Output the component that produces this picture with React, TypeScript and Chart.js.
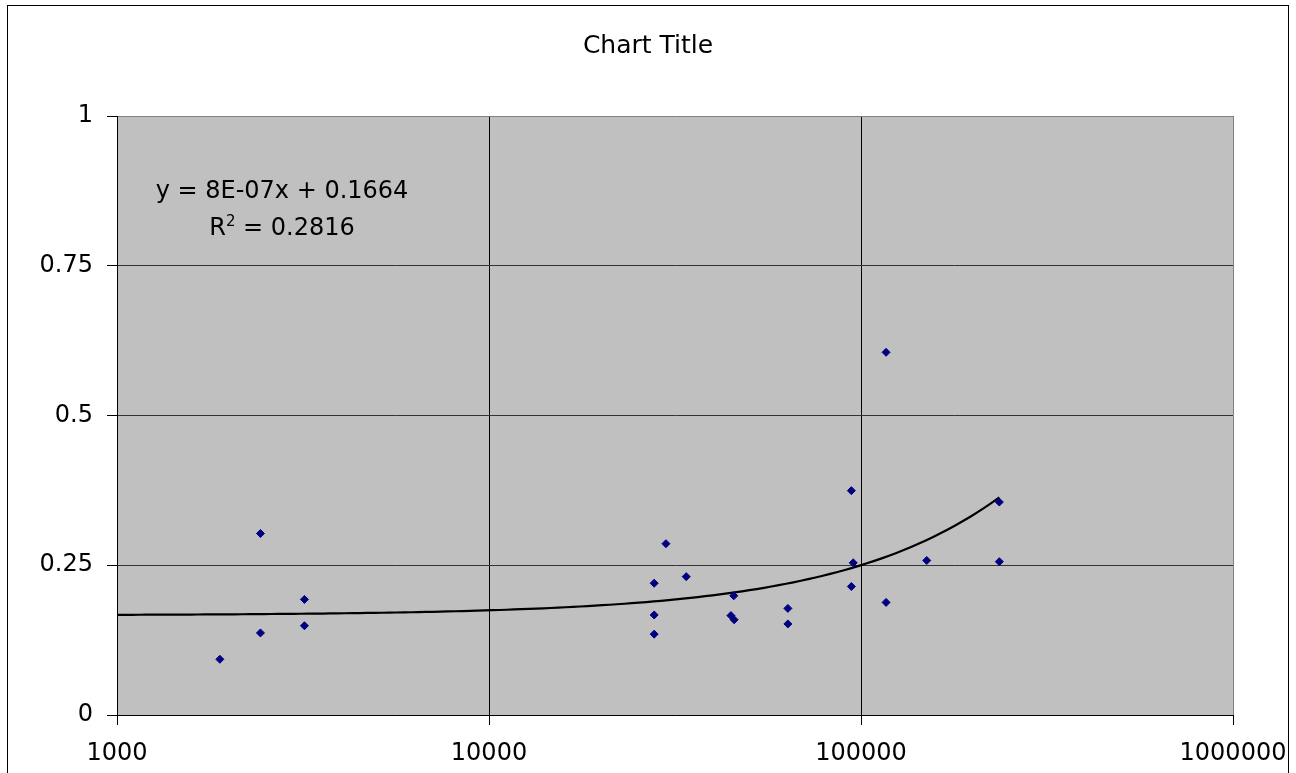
import React, { useEffect, useRef } from 'react';
import { Chart, registerables } from 'chart.js';

Chart.register(...registerables);

// ---- Data ----
const chartTitle = 'Chart Title';
const xValues = [1890, 2430, 2430, 3190, 3190, 27800, 27800, 27800, 29900, 33900, 45500, 44700, 45600, 63600, 63600, 94200, 95300, 94200, 116800, 116800, 150200, 235400, 235400];
const yValues = [0.093, 0.303, 0.137, 0.193, 0.149, 0.22, 0.167, 0.135, 0.286, 0.231, 0.199, 0.166, 0.159, 0.178, 0.152, 0.3745, 0.254, 0.2145, 0.6055, 0.188, 0.258, 0.3555, 0.256];
const xTickValues = [1000, 10000, 100000, 1000000];
const yTickValues = [0, 0.25, 0.5, 0.75, 1];
const trendSlope = 8.37e-7;
const trendIntercept = 0.1664;
const trendStartX = 1000;
const equationText = 'y = 8E-07x + 0.1664';
const rSquaredLabel = 'R';
const rSquaredSup = '2';
const rSquaredValue = ' = 0.2816';

const FONT = '"DejaVu Sans", sans-serif';

export default function App() {
  const canvasRef = useRef<HTMLCanvasElement | null>(null);

  useEffect(() => {
    const canvas = canvasRef.current;
    if (!canvas) return;

    const points = xValues.map((x, i) => ({ x, y: yValues[i] }));
    const trendEndX = Math.max(...xValues);
    const steps = 120;
    const trendPoints: { x: number; y: number }[] = [];
    const l0 = Math.log10(trendStartX);
    const l1 = Math.log10(trendEndX);
    for (let i = 0; i <= steps; i++) {
      const x = Math.pow(10, l0 + ((l1 - l0) * i) / steps);
      trendPoints.push({ x, y: trendSlope * x + trendIntercept });
    }

    const bgPlugin = {
      id: 'bgPlugin',
      beforeDraw(chart: any) {
        const { ctx, chartArea } = chart;
        ctx.save();
        ctx.fillStyle = '#ffffff';
        ctx.fillRect(0, 0, chart.width, chart.height);
        ctx.fillStyle = '#C0C0C0';
        ctx.fillRect(chartArea.left, chartArea.top, chartArea.right - chartArea.left, chartArea.bottom - chartArea.top);
        ctx.strokeStyle = '#000000';
        ctx.lineWidth = 1;
        ctx.strokeRect(7.5, 5.5, 1281, 820);
        ctx.restore();
      },
    };

    const eqPlugin = {
      id: 'eqPlugin',
      afterDatasetsDraw(chart: any) {
        const { ctx } = chart;
        const cx = 282;
        ctx.save();
        ctx.fillStyle = '#000000';
        ctx.textBaseline = 'alphabetic';
        ctx.font = `24px ${FONT}`;
        ctx.textAlign = 'center';
        ctx.fillText(equationText, cx, 198);
        ctx.textAlign = 'left';
        const wR = ctx.measureText(rSquaredLabel).width;
        const wV = ctx.measureText(rSquaredValue).width;
        ctx.font = `15px ${FONT}`;
        const wS = ctx.measureText(rSquaredSup).width;
        const total = wR + wS + wV;
        let x = cx - total / 2;
        const base = 235;
        ctx.font = `24px ${FONT}`;
        ctx.fillText(rSquaredLabel, x, base);
        x += wR;
        ctx.font = `15px ${FONT}`;
        ctx.fillText(rSquaredSup, x, base - 9);
        x += wS;
        ctx.font = `24px ${FONT}`;
        ctx.fillText(rSquaredValue, x, base);
        ctx.restore();
      },
    };

    const chart = new Chart(canvas, {
      type: 'scatter',
      data: {
        datasets: [
          {
            type: 'scatter',
            label: 'data',
            data: points,
            pointStyle: 'rectRot',
            pointRadius: 4,
            pointHoverRadius: 4,
            backgroundColor: '#000080',
            borderColor: '#000080',
            borderWidth: 1,
            order: 0,
          } as any,
          {
            type: 'line',
            label: 'trend',
            data: trendPoints,
            borderColor: '#000000',
            borderWidth: 2.2,
            pointRadius: 0,
            fill: false,
            tension: 0,
            order: 1,
          } as any,
        ],
      },
      options: {
        animation: false,
        responsive: false,
        devicePixelRatio: 1,
        layout: { padding: { left: 0, right: 0, top: 0, bottom: 0 } },
        plugins: {
          legend: { display: false },
          tooltip: { enabled: false },
          title: {
            display: true,
            text: chartTitle,
            color: '#000000',
            font: { family: FONT, size: 25, weight: 'normal', lineHeight: 1.2 },
            padding: { top: 31, bottom: 55 },
          },
        },
        scales: {
          x: {
            type: 'logarithmic',
            position: 'bottom',
            min: 1000,
            max: 1000000,
            afterBuildTicks: (s: any) => {
              s.ticks = xTickValues.map((v) => ({ value: v }));
            },
            afterFit: (s: any) => {
              s.height = 58;
              s.paddingLeft = 0;
              s.paddingRight = 0;
            },
            ticks: {
              autoSkip: false,
              maxRotation: 0,
              minRotation: 0,
              padding: 14,
              color: '#000000',
              font: { family: FONT, size: 24 },
              callback: (v: any) => String(v),
            },
            grid: {
              color: (c: any) => (c.tick && c.tick.value === 1000000 ? '#808080' : '#000000'),
              lineWidth: 1,
              tickLength: 10,
              tickColor: '#000000',
              drawOnChartArea: true,
              drawTicks: true,
            },
            border: { display: true, color: '#000000', width: 1 },
          },
          y: {
            type: 'linear',
            position: 'left',
            min: 0,
            max: 1,
            afterBuildTicks: (s: any) => {
              s.ticks = yTickValues.map((v) => ({ value: v }));
            },
            afterFit: (s: any) => {
              s.width = 117;
            },
            ticks: {
              padding: 14,
              color: '#000000',
              font: { family: FONT, size: 24 },
              callback: (v: any) => String(v),
            },
            grid: {
              color: (c: any) => (c.tick && c.tick.value === 1 ? '#808080' : '#333333'),
              lineWidth: 1,
              tickLength: 10,
              tickColor: '#000000',
              drawOnChartArea: true,
              drawTicks: true,
            },
            border: { display: true, color: '#000000', width: 1 },
          },
          yRight: {
            type: 'linear',
            position: 'right',
            display: true,
            min: 0,
            max: 1,
            afterFit: (s: any) => {
              s.width = 63;
            },
            ticks: { display: false },
            grid: { display: false, drawOnChartArea: false, drawTicks: false },
            border: { display: false },
          },
        },
      } as any,
      plugins: [bgPlugin, eqPlugin],
    });

    return () => {
      chart.destroy();
    };
  }, []);

  return (
    <div style={{ position: 'absolute', left: 0, top: 0, width: 1296, height: 773 }}>
      <canvas
        ref={canvasRef}
        width={1296}
        height={773}
        style={{ display: 'block', width: 1296, height: 773 }}
      />
    </div>
  );
}
